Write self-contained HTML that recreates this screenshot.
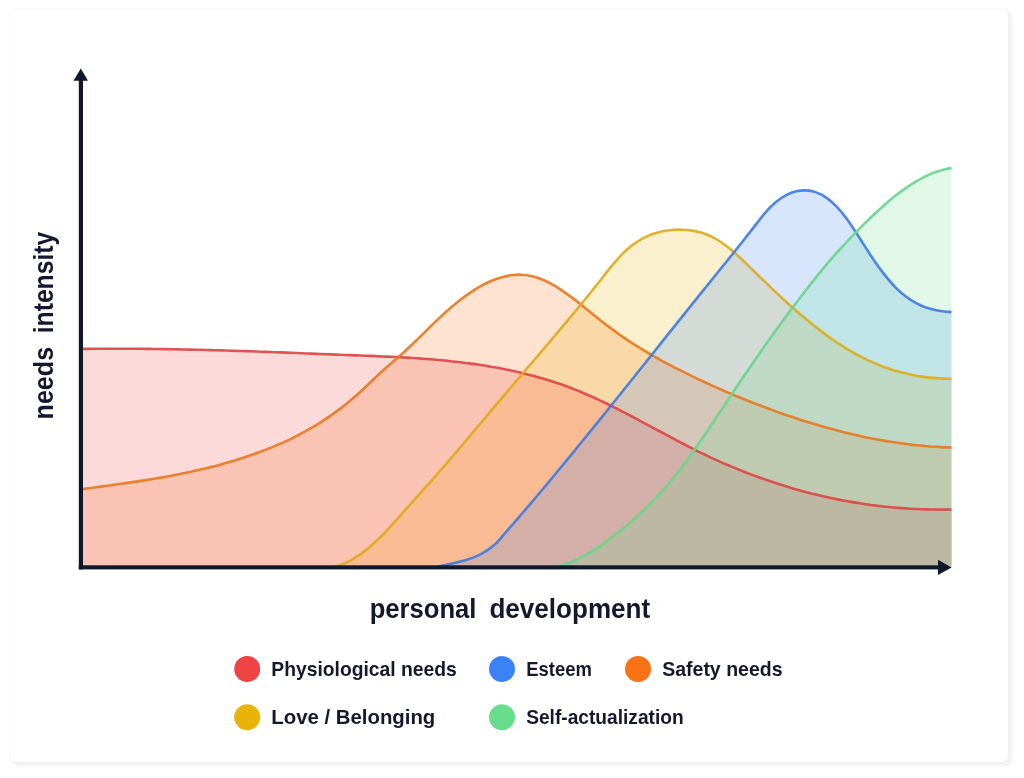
<!DOCTYPE html>
<html lang="en">
<head>
<meta charset="utf-8">
<title>Needs intensity vs personal development</title>
<style>
html,body{margin:0;padding:0;background:#fff;}
body{width:1024px;height:778px;overflow:hidden;position:relative;font-family:"Liberation Sans",sans-serif;}
.card{position:absolute;left:11px;top:10px;width:997px;height:752px;background:#fff;border-radius:6px;box-shadow:3px 3px 3px 2px rgba(0,0,0,0.045),0 0 0 2px rgba(0,0,0,0.015);}
svg{position:absolute;left:0;top:0;}
text{font-family:"Liberation Sans",sans-serif;font-weight:bold;fill:#14172e;}
</style>
</head>
<body>
<div class="card"></div>
<svg width="1024" height="778" viewBox="0 0 1024 778">
<g>
<path d="M81.0 489.3C84.3 488.9 87.7 488.4 91.0 488.0C94.3 487.5 97.7 487.1 101.0 486.6C104.3 486.2 107.7 485.7 111.0 485.2C114.3 484.8 117.7 484.3 121.0 483.8C124.3 483.4 127.7 482.9 131.0 482.4C134.3 481.9 137.7 481.4 141.0 480.9C144.3 480.4 147.7 479.8 151.0 479.3C154.3 478.7 157.7 478.2 161.0 477.6C164.3 477.0 167.7 476.4 171.0 475.8C174.3 475.1 177.7 474.5 181.0 473.8C184.3 473.1 187.7 472.4 191.0 471.7C194.3 471.0 197.7 470.2 201.0 469.5C204.3 468.7 207.7 467.9 211.0 467.0C214.3 466.2 217.7 465.3 221.0 464.4C224.3 463.5 227.7 462.5 231.0 461.5C234.3 460.5 237.7 459.5 241.0 458.4C244.3 457.4 247.7 456.2 251.0 455.1C254.3 453.9 257.7 452.7 261.0 451.5C264.3 450.2 267.7 449.0 271.0 447.6C274.3 446.3 277.7 444.9 281.0 443.4C284.3 441.9 287.7 440.4 291.0 438.8C294.3 437.2 297.7 435.5 301.0 433.7C304.3 432.0 307.7 430.1 311.0 428.2C314.3 426.3 317.7 424.2 321.0 422.1C324.3 420.0 327.7 417.7 331.0 415.4C334.3 413.1 337.7 410.6 341.0 408.1C344.3 405.5 347.7 402.8 351.0 400.0C354.3 397.2 357.7 394.3 361.0 391.2C364.3 388.1 367.7 384.9 371.0 381.7C374.3 378.5 377.7 375.3 381.0 372.2C384.3 369.1 387.7 366.2 391.0 363.4C394.3 360.5 397.7 357.8 401.0 354.8C404.3 351.8 407.7 348.7 411.0 345.5C414.3 342.3 417.7 339.1 421.0 335.8C424.3 332.5 427.7 329.2 431.0 325.9C434.3 322.7 437.7 319.5 441.0 316.4C444.3 313.3 447.7 310.3 451.0 307.5C454.3 304.6 457.7 301.9 461.0 299.3C464.3 296.7 467.7 294.3 471.0 292.1C474.3 289.9 477.7 287.8 481.0 285.9C484.3 284.1 487.7 282.4 491.0 281.0C494.3 279.6 497.7 278.3 501.0 277.4C504.3 276.4 507.7 275.7 511.0 275.2C514.3 274.8 517.7 274.6 521.0 274.7C524.3 274.8 527.7 275.2 531.0 275.9C534.3 276.6 537.7 277.7 541.0 279.0C544.3 280.3 547.7 281.9 551.0 283.7C554.3 285.6 557.7 287.6 561.0 289.8C564.3 292.0 567.7 294.4 571.0 296.9C574.3 299.4 577.7 302.0 581.0 304.6C584.3 307.3 587.7 310.0 591.0 312.7C594.3 315.4 597.7 318.1 601.0 320.7C604.3 323.4 607.7 326.0 611.0 328.4C614.3 330.9 617.7 333.3 621.0 335.6C624.3 337.9 627.7 340.2 631.0 342.4C634.3 344.5 637.7 346.6 641.0 348.7C644.3 350.7 647.7 352.7 651.0 354.6C654.3 356.5 657.7 358.4 661.0 360.3C664.3 362.1 667.7 363.9 671.0 365.6C674.3 367.4 677.7 369.1 681.0 370.7C684.3 372.4 687.7 374.1 691.0 375.7C694.3 377.3 697.7 378.9 701.0 380.5C704.3 382.0 707.7 383.6 711.0 385.1C714.3 386.6 717.7 388.1 721.0 389.5C724.3 391.0 727.7 392.4 731.0 393.8C734.3 395.2 737.7 396.6 741.0 398.0C744.3 399.3 747.7 400.7 751.0 402.0C754.3 403.3 757.7 404.6 761.0 405.8C764.3 407.1 767.7 408.3 771.0 409.6C774.3 410.8 777.7 412.0 781.0 413.2C784.3 414.3 787.7 415.5 791.0 416.6C794.3 417.7 797.7 418.8 801.0 419.9C804.3 421.0 807.7 422.0 811.0 423.0C814.3 424.0 817.7 425.0 821.0 426.0C824.3 426.9 827.7 427.9 831.0 428.8C834.3 429.7 837.7 430.6 841.0 431.4C844.3 432.3 847.7 433.1 851.0 433.9C854.3 434.7 857.7 435.4 861.0 436.2C864.3 436.9 867.7 437.6 871.0 438.2C874.3 438.9 877.7 439.5 881.0 440.1C884.3 440.7 887.7 441.3 891.0 441.8C894.3 442.3 897.7 442.8 901.0 443.3C904.3 443.8 907.7 444.2 911.0 444.6C914.3 445.0 917.7 445.3 921.0 445.6C924.3 446.0 927.7 446.2 931.0 446.5C934.3 446.7 937.7 446.9 941.0 447.1C944.5 447.3 948.0 447.4 951.5 447.5L951.5 567.3L81.0 567.3Z" fill="#f97316" fill-opacity="0.2"/>
<path d="M332.0 567.3C335.3 566.7 338.7 565.7 342.0 564.4C345.3 563.1 348.7 561.5 352.0 559.6C355.3 557.7 358.7 555.5 362.0 553.1C365.3 550.6 368.7 547.9 372.0 545.0C375.3 542.0 378.7 538.9 382.0 535.5C385.3 532.1 388.7 528.5 392.0 524.8C395.3 521.2 398.7 517.4 402.0 513.6C405.3 509.8 408.7 506.0 412.0 502.4C415.3 498.7 418.7 495.0 422.0 491.3C425.3 487.6 428.7 483.9 432.0 480.1C435.3 476.3 438.7 472.5 442.0 468.7C445.3 464.8 448.7 460.9 452.0 457.0C455.3 453.1 458.7 449.2 462.0 445.3C465.3 441.3 468.7 437.4 472.0 433.4C475.3 429.5 478.7 425.5 482.0 421.5C485.3 417.5 488.7 413.6 492.0 409.6C495.3 405.7 498.7 401.7 502.0 397.8C505.3 393.8 508.7 389.9 512.0 386.0C515.3 382.1 518.7 378.2 522.0 374.3C525.3 370.4 528.7 366.5 532.0 362.6C535.3 358.7 538.7 354.8 542.0 350.9C545.3 347.0 548.7 343.0 552.0 339.1C555.3 335.2 558.7 331.2 562.0 327.2C565.3 323.2 568.7 319.3 572.0 315.2C575.3 311.2 578.7 307.2 582.0 303.1C585.3 299.0 588.7 294.9 592.0 290.7C595.3 286.6 598.7 282.4 602.0 278.2C605.3 274.0 608.7 269.7 612.0 265.7C615.3 261.7 618.7 257.8 622.0 254.4C625.3 250.9 628.7 247.9 632.0 245.4C635.3 242.8 638.7 240.6 642.0 238.8C645.3 237.0 648.7 235.5 652.0 234.3C655.3 233.1 658.7 232.1 662.0 231.4C665.3 230.7 668.7 230.2 672.0 230.0C675.3 229.7 678.7 229.6 682.0 229.7C685.3 229.8 688.7 230.1 692.0 230.6C695.3 231.1 698.7 231.8 702.0 232.8C705.3 233.9 708.7 235.2 712.0 236.9C715.3 238.5 718.7 240.5 722.0 242.8C725.3 245.2 728.7 247.8 732.0 250.6C735.3 253.4 738.7 256.4 742.0 259.6C745.3 262.7 748.7 266.0 752.0 269.2C755.3 272.5 758.7 275.8 762.0 279.0C765.3 282.2 768.7 285.4 772.0 288.6C775.3 291.8 778.7 294.9 782.0 298.0C785.3 301.1 788.7 304.1 792.0 307.1C795.3 310.0 798.7 313.0 802.0 315.8C805.3 318.6 808.7 321.4 812.0 324.1C815.3 326.8 818.7 329.4 822.0 331.9C825.3 334.5 828.7 336.9 832.0 339.2C835.3 341.6 838.7 343.8 842.0 345.9C845.3 348.1 848.7 350.1 852.0 352.0C855.3 353.9 858.7 355.7 862.0 357.3C865.3 359.0 868.7 360.6 872.0 362.1C875.3 363.5 878.7 364.9 882.0 366.2C885.3 367.4 888.7 368.6 892.0 369.7C895.3 370.7 898.7 371.7 902.0 372.6C905.3 373.4 908.7 374.2 912.0 374.9C915.3 375.6 918.7 376.2 922.0 376.6C925.3 377.1 928.7 377.6 932.0 377.9C935.3 378.2 938.7 378.4 942.0 378.6C945.2 378.7 948.3 378.8 951.5 378.8L951.5 567.3L332.0 567.3Z" fill="#eab308" fill-opacity="0.2"/>
<path d="M81.0 348.9C84.3 348.9 87.7 348.8 91.0 348.8C94.3 348.8 97.7 348.7 101.0 348.7C104.3 348.7 107.7 348.7 111.0 348.7C114.3 348.7 117.7 348.7 121.0 348.7C124.3 348.7 127.7 348.7 131.0 348.7C134.3 348.7 137.7 348.7 141.0 348.8C144.3 348.8 147.7 348.8 151.0 348.9C154.3 348.9 157.7 349.0 161.0 349.0C164.3 349.1 167.7 349.1 171.0 349.2C174.3 349.2 177.7 349.3 181.0 349.4C184.3 349.4 187.7 349.5 191.0 349.6C194.3 349.7 197.7 349.7 201.0 349.8C204.3 349.9 207.7 350.0 211.0 350.1C214.3 350.2 217.7 350.3 221.0 350.4C224.3 350.5 227.7 350.6 231.0 350.7C234.3 350.8 237.7 350.9 241.0 351.0C244.3 351.1 247.7 351.2 251.0 351.3C254.3 351.4 257.7 351.6 261.0 351.7C264.3 351.8 267.7 351.9 271.0 352.0C274.3 352.2 277.7 352.3 281.0 352.4C284.3 352.5 287.7 352.7 291.0 352.8C294.3 352.9 297.7 353.1 301.0 353.2C304.3 353.3 307.7 353.4 311.0 353.6C314.3 353.7 317.7 353.8 321.0 354.0C324.3 354.1 327.7 354.2 331.0 354.4C334.3 354.5 337.7 354.6 341.0 354.8C344.3 354.9 347.7 355.0 351.0 355.1C354.3 355.3 357.7 355.4 361.0 355.5C364.3 355.7 367.7 355.8 371.0 355.9C374.3 356.1 377.7 356.2 381.0 356.4C384.3 356.5 387.7 356.7 391.0 356.8C394.3 357.0 397.7 357.1 401.0 357.3C404.3 357.5 407.7 357.7 411.0 357.9C414.3 358.1 417.7 358.3 421.0 358.6C424.3 358.8 427.7 359.1 431.0 359.3C434.3 359.6 437.7 359.9 441.0 360.2C444.3 360.5 447.7 360.8 451.0 361.2C454.3 361.5 457.7 361.9 461.0 362.3C464.3 362.7 467.7 363.1 471.0 363.6C474.3 364.0 477.7 364.5 481.0 365.0C484.3 365.5 487.7 366.1 491.0 366.7C494.3 367.2 497.7 367.8 501.0 368.5C504.3 369.1 507.7 369.8 511.0 370.5C514.3 371.2 517.7 372.0 521.0 372.8C524.3 373.6 527.7 374.4 531.0 375.3C534.3 376.1 537.7 377.1 541.0 378.0C544.3 379.0 547.7 380.0 551.0 381.0C554.3 382.1 557.7 383.2 561.0 384.3C564.3 385.5 567.7 386.7 571.0 388.0C574.3 389.3 577.7 390.6 581.0 392.0C584.3 393.4 587.7 394.8 591.0 396.3C594.3 397.8 597.7 399.3 601.0 400.9C604.3 402.4 607.7 404.1 611.0 405.7C614.3 407.4 617.7 409.0 621.0 410.8C624.3 412.5 627.7 414.2 631.0 416.0C634.3 417.7 637.7 419.5 641.0 421.3C644.3 423.1 647.7 424.9 651.0 426.6C654.3 428.4 657.7 430.2 661.0 432.0C664.3 433.8 667.7 435.6 671.0 437.4C674.3 439.2 677.7 440.9 681.0 442.7C684.3 444.4 687.7 446.1 691.0 447.8C694.3 449.5 697.7 451.2 701.0 452.8C704.3 454.4 707.7 456.0 711.0 457.6C714.3 459.1 717.7 460.6 721.0 462.1C724.3 463.6 727.7 465.0 731.0 466.4C734.3 467.8 737.7 469.2 741.0 470.5C744.3 471.9 747.7 473.2 751.0 474.4C754.3 475.7 757.7 476.9 761.0 478.1C764.3 479.3 767.7 480.5 771.0 481.6C774.3 482.7 777.7 483.8 781.0 484.8C784.3 485.9 787.7 486.9 791.0 487.9C794.3 488.9 797.7 489.8 801.0 490.7C804.3 491.7 807.7 492.5 811.0 493.4C814.3 494.2 817.7 495.0 821.0 495.8C824.3 496.6 827.7 497.3 831.0 498.0C834.3 498.8 837.7 499.4 841.0 500.1C844.3 500.7 847.7 501.3 851.0 501.9C854.3 502.5 857.7 503.0 861.0 503.5C864.3 504.0 867.7 504.5 871.0 505.0C874.3 505.4 877.7 505.8 881.0 506.2C884.3 506.6 887.7 506.9 891.0 507.3C894.3 507.6 897.7 507.9 901.0 508.1C904.3 508.4 907.7 508.6 911.0 508.8C914.3 509.0 917.7 509.1 921.0 509.2C924.3 509.4 927.7 509.4 931.0 509.5C934.3 509.6 937.7 509.6 941.0 509.6C944.5 509.6 948.0 509.6 951.5 509.5L951.5 567.3L81.0 567.3Z" fill="#ef4444" fill-opacity="0.2"/>
<path d="M436.0 567.3C439.3 566.3 442.7 565.5 446.0 564.8C449.3 564.0 452.7 563.3 456.0 562.6C459.3 561.8 462.7 561.0 466.0 560.0C469.3 559.0 472.7 557.9 476.0 556.4C479.3 555.0 482.7 553.3 486.0 551.1C489.4 549.0 492.8 546.4 496.2 543.3C499.5 539.5 502.9 535.7 506.2 531.9C509.5 528.1 512.9 524.3 516.2 520.4C519.5 516.5 522.9 512.7 526.2 508.7C529.5 504.8 532.9 500.9 536.2 497.0C539.5 493.0 542.9 489.0 546.2 485.0C549.5 481.1 552.9 477.1 556.2 473.0C559.5 469.0 562.9 465.0 566.2 460.9C569.5 456.9 572.9 452.8 576.2 448.7C579.5 444.6 582.9 440.5 586.2 436.4C589.5 432.3 592.9 428.2 596.2 424.1C599.5 420.0 602.9 415.8 606.2 411.7C609.5 407.5 612.9 403.4 616.2 399.2C619.5 395.1 622.9 390.9 626.2 386.8C629.5 382.6 632.9 378.4 636.2 374.2C639.5 370.1 642.9 365.9 646.2 361.7C649.5 357.5 652.9 353.3 656.2 349.2C659.5 345.0 662.9 340.8 666.2 336.6C669.5 332.4 672.9 328.3 676.2 324.1C679.5 319.9 682.9 315.8 686.2 311.6C689.5 307.4 692.9 303.3 696.2 299.1C699.5 295.0 702.9 290.8 706.2 286.7C709.5 282.6 712.9 278.5 716.2 274.3C719.5 270.2 722.9 266.1 726.2 262.0C729.5 257.8 732.9 253.7 736.2 249.5C739.5 245.3 742.9 241.1 746.2 236.9C749.5 232.7 752.9 228.4 756.2 224.1C759.5 219.8 762.9 215.4 766.2 211.6C769.5 207.7 772.9 204.5 776.2 201.7C779.5 199.0 782.9 196.8 786.2 195.1C789.5 193.4 792.9 192.1 796.2 191.3C799.5 190.5 802.9 190.2 806.2 190.4C809.5 190.5 812.9 191.2 816.2 192.4C819.5 193.6 822.9 195.3 826.2 197.6C829.5 199.8 832.9 202.7 836.2 206.1C839.5 209.5 842.9 213.6 846.2 218.1C849.5 222.7 852.9 227.6 856.2 232.8C859.5 237.9 862.9 243.2 866.2 248.4C869.5 253.6 872.9 258.8 876.2 263.5C879.5 268.3 882.9 272.8 886.2 276.9C889.5 281.0 892.9 284.8 896.2 288.1C899.5 291.4 902.9 294.3 906.2 296.8C909.5 299.3 912.9 301.4 916.2 303.1C919.5 304.9 922.9 306.4 926.2 307.6C929.5 308.7 932.9 309.6 936.2 310.3C939.5 311.0 942.9 311.4 946.2 311.7C948.0 311.8 949.7 311.9 951.5 312.0L951.5 567.3L436.0 567.3Z" fill="#3b82f6" fill-opacity="0.2"/>
<path d="M555.0 567.3C558.3 566.6 561.7 565.6 565.0 564.5C568.3 563.3 571.7 562.0 575.0 560.5C578.3 558.9 581.7 557.2 585.0 555.4C588.3 553.6 591.7 551.6 595.0 549.4C598.3 547.3 601.7 545.0 605.0 542.6C608.3 540.2 611.7 537.7 615.0 535.1C618.3 532.5 621.7 529.8 625.0 527.0C628.3 524.3 631.7 521.4 635.0 518.4C638.3 515.4 641.7 512.3 645.0 509.1C648.3 505.9 651.7 502.6 655.0 499.1C658.3 495.6 661.7 491.9 665.0 488.1C668.3 484.3 671.7 480.4 675.0 476.2C678.3 472.0 681.7 467.7 685.0 463.2C688.3 458.6 691.7 453.9 695.0 449.1C698.3 444.3 701.7 439.4 705.0 434.4C708.3 429.4 711.7 424.4 715.0 419.4C718.3 414.4 721.7 409.4 725.0 404.4C728.3 399.4 731.7 394.4 735.0 389.4C738.3 384.4 741.7 379.5 745.0 374.6C748.3 369.7 751.7 364.8 755.0 360.0C758.3 355.2 761.7 350.4 765.0 345.6C768.3 340.9 771.7 336.2 775.0 331.6C778.3 326.9 781.7 322.4 785.0 317.8C788.3 313.3 791.7 308.8 795.0 304.4C798.3 300.0 801.7 295.6 805.0 291.3C808.3 287.0 811.7 282.8 815.0 278.6C818.3 274.4 821.7 270.3 825.0 266.3C828.3 262.3 831.7 258.4 835.0 254.7C838.3 250.9 841.7 247.3 845.0 243.8C848.3 240.2 851.7 236.7 855.0 233.3C858.3 229.8 861.7 226.5 865.0 223.2C868.3 219.9 871.7 216.6 875.0 213.5C878.3 210.4 881.7 207.4 885.0 204.5C888.3 201.6 891.7 198.8 895.0 196.1C898.3 193.5 901.7 191.0 905.0 188.6C908.3 186.3 911.7 184.1 915.0 182.1C918.3 180.1 921.7 178.3 925.0 176.6C928.3 175.0 931.7 173.5 935.0 172.3C938.3 171.1 941.7 170.1 945.0 169.3C947.2 168.8 949.3 168.4 951.5 168.1L951.5 567.3L555.0 567.3Z" fill="#68dd8b" fill-opacity="0.2"/>
<path d="M81.0 348.9C84.3 348.9 87.7 348.8 91.0 348.8C94.3 348.8 97.7 348.7 101.0 348.7C104.3 348.7 107.7 348.7 111.0 348.7C114.3 348.7 117.7 348.7 121.0 348.7C124.3 348.7 127.7 348.7 131.0 348.7C134.3 348.7 137.7 348.7 141.0 348.8C144.3 348.8 147.7 348.8 151.0 348.9C154.3 348.9 157.7 349.0 161.0 349.0C164.3 349.1 167.7 349.1 171.0 349.2C174.3 349.2 177.7 349.3 181.0 349.4C184.3 349.4 187.7 349.5 191.0 349.6C194.3 349.7 197.7 349.7 201.0 349.8C204.3 349.9 207.7 350.0 211.0 350.1C214.3 350.2 217.7 350.3 221.0 350.4C224.3 350.5 227.7 350.6 231.0 350.7C234.3 350.8 237.7 350.9 241.0 351.0C244.3 351.1 247.7 351.2 251.0 351.3C254.3 351.4 257.7 351.6 261.0 351.7C264.3 351.8 267.7 351.9 271.0 352.0C274.3 352.2 277.7 352.3 281.0 352.4C284.3 352.5 287.7 352.7 291.0 352.8C294.3 352.9 297.7 353.1 301.0 353.2C304.3 353.3 307.7 353.4 311.0 353.6C314.3 353.7 317.7 353.8 321.0 354.0C324.3 354.1 327.7 354.2 331.0 354.4C334.3 354.5 337.7 354.6 341.0 354.8C344.3 354.9 347.7 355.0 351.0 355.1C354.3 355.3 357.7 355.4 361.0 355.5C364.3 355.7 367.7 355.8 371.0 355.9C374.3 356.1 377.7 356.2 381.0 356.4C384.3 356.5 387.7 356.7 391.0 356.8C394.3 357.0 397.7 357.1 401.0 357.3C404.3 357.5 407.7 357.7 411.0 357.9C414.3 358.1 417.7 358.3 421.0 358.6C424.3 358.8 427.7 359.1 431.0 359.3C434.3 359.6 437.7 359.9 441.0 360.2C444.3 360.5 447.7 360.8 451.0 361.2C454.3 361.5 457.7 361.9 461.0 362.3C464.3 362.7 467.7 363.1 471.0 363.6C474.3 364.0 477.7 364.5 481.0 365.0C484.3 365.5 487.7 366.1 491.0 366.7C494.3 367.2 497.7 367.8 501.0 368.5C504.3 369.1 507.7 369.8 511.0 370.5C514.3 371.2 517.7 372.0 521.0 372.8C524.3 373.6 527.7 374.4 531.0 375.3C534.3 376.1 537.7 377.1 541.0 378.0C544.3 379.0 547.7 380.0 551.0 381.0C554.3 382.1 557.7 383.2 561.0 384.3C564.3 385.5 567.7 386.7 571.0 388.0C574.3 389.3 577.7 390.6 581.0 392.0C584.3 393.4 587.7 394.8 591.0 396.3C594.3 397.8 597.7 399.3 601.0 400.9C604.3 402.4 607.7 404.1 611.0 405.7C614.3 407.4 617.7 409.0 621.0 410.8C624.3 412.5 627.7 414.2 631.0 416.0C634.3 417.7 637.7 419.5 641.0 421.3C644.3 423.1 647.7 424.9 651.0 426.6C654.3 428.4 657.7 430.2 661.0 432.0C664.3 433.8 667.7 435.6 671.0 437.4C674.3 439.2 677.7 440.9 681.0 442.7C684.3 444.4 687.7 446.1 691.0 447.8C694.3 449.5 697.7 451.2 701.0 452.8C704.3 454.4 707.7 456.0 711.0 457.6C714.3 459.1 717.7 460.6 721.0 462.1C724.3 463.6 727.7 465.0 731.0 466.4C734.3 467.8 737.7 469.2 741.0 470.5C744.3 471.9 747.7 473.2 751.0 474.4C754.3 475.7 757.7 476.9 761.0 478.1C764.3 479.3 767.7 480.5 771.0 481.6C774.3 482.7 777.7 483.8 781.0 484.8C784.3 485.9 787.7 486.9 791.0 487.9C794.3 488.9 797.7 489.8 801.0 490.7C804.3 491.7 807.7 492.5 811.0 493.4C814.3 494.2 817.7 495.0 821.0 495.8C824.3 496.6 827.7 497.3 831.0 498.0C834.3 498.8 837.7 499.4 841.0 500.1C844.3 500.7 847.7 501.3 851.0 501.9C854.3 502.5 857.7 503.0 861.0 503.5C864.3 504.0 867.7 504.5 871.0 505.0C874.3 505.4 877.7 505.8 881.0 506.2C884.3 506.6 887.7 506.9 891.0 507.3C894.3 507.6 897.7 507.9 901.0 508.1C904.3 508.4 907.7 508.6 911.0 508.8C914.3 509.0 917.7 509.1 921.0 509.2C924.3 509.4 927.7 509.4 931.0 509.5C934.3 509.6 937.7 509.6 941.0 509.6C944.5 509.6 948.0 509.6 951.5 509.5" fill="none" stroke="#dc4646" stroke-width="2.6" stroke-opacity="0.92" stroke-linejoin="round"/>
<path d="M81.0 489.3C84.3 488.9 87.7 488.4 91.0 488.0C94.3 487.5 97.7 487.1 101.0 486.6C104.3 486.2 107.7 485.7 111.0 485.2C114.3 484.8 117.7 484.3 121.0 483.8C124.3 483.4 127.7 482.9 131.0 482.4C134.3 481.9 137.7 481.4 141.0 480.9C144.3 480.4 147.7 479.8 151.0 479.3C154.3 478.7 157.7 478.2 161.0 477.6C164.3 477.0 167.7 476.4 171.0 475.8C174.3 475.1 177.7 474.5 181.0 473.8C184.3 473.1 187.7 472.4 191.0 471.7C194.3 471.0 197.7 470.2 201.0 469.5C204.3 468.7 207.7 467.9 211.0 467.0C214.3 466.2 217.7 465.3 221.0 464.4C224.3 463.5 227.7 462.5 231.0 461.5C234.3 460.5 237.7 459.5 241.0 458.4C244.3 457.4 247.7 456.2 251.0 455.1C254.3 453.9 257.7 452.7 261.0 451.5C264.3 450.2 267.7 449.0 271.0 447.6C274.3 446.3 277.7 444.9 281.0 443.4C284.3 441.9 287.7 440.4 291.0 438.8C294.3 437.2 297.7 435.5 301.0 433.7C304.3 432.0 307.7 430.1 311.0 428.2C314.3 426.3 317.7 424.2 321.0 422.1C324.3 420.0 327.7 417.7 331.0 415.4C334.3 413.1 337.7 410.6 341.0 408.1C344.3 405.5 347.7 402.8 351.0 400.0C354.3 397.2 357.7 394.3 361.0 391.2C364.3 388.1 367.7 384.9 371.0 381.7C374.3 378.5 377.7 375.3 381.0 372.2C384.3 369.1 387.7 366.2 391.0 363.4C394.3 360.5 397.7 357.8 401.0 354.8C404.3 351.8 407.7 348.7 411.0 345.5C414.3 342.3 417.7 339.1 421.0 335.8C424.3 332.5 427.7 329.2 431.0 325.9C434.3 322.7 437.7 319.5 441.0 316.4C444.3 313.3 447.7 310.3 451.0 307.5C454.3 304.6 457.7 301.9 461.0 299.3C464.3 296.7 467.7 294.3 471.0 292.1C474.3 289.9 477.7 287.8 481.0 285.9C484.3 284.1 487.7 282.4 491.0 281.0C494.3 279.6 497.7 278.3 501.0 277.4C504.3 276.4 507.7 275.7 511.0 275.2C514.3 274.8 517.7 274.6 521.0 274.7C524.3 274.8 527.7 275.2 531.0 275.9C534.3 276.6 537.7 277.7 541.0 279.0C544.3 280.3 547.7 281.9 551.0 283.7C554.3 285.6 557.7 287.6 561.0 289.8C564.3 292.0 567.7 294.4 571.0 296.9C574.3 299.4 577.7 302.0 581.0 304.6C584.3 307.3 587.7 310.0 591.0 312.7C594.3 315.4 597.7 318.1 601.0 320.7C604.3 323.4 607.7 326.0 611.0 328.4C614.3 330.9 617.7 333.3 621.0 335.6C624.3 337.9 627.7 340.2 631.0 342.4C634.3 344.5 637.7 346.6 641.0 348.7C644.3 350.7 647.7 352.7 651.0 354.6C654.3 356.5 657.7 358.4 661.0 360.3C664.3 362.1 667.7 363.9 671.0 365.6C674.3 367.4 677.7 369.1 681.0 370.7C684.3 372.4 687.7 374.1 691.0 375.7C694.3 377.3 697.7 378.9 701.0 380.5C704.3 382.0 707.7 383.6 711.0 385.1C714.3 386.6 717.7 388.1 721.0 389.5C724.3 391.0 727.7 392.4 731.0 393.8C734.3 395.2 737.7 396.6 741.0 398.0C744.3 399.3 747.7 400.7 751.0 402.0C754.3 403.3 757.7 404.6 761.0 405.8C764.3 407.1 767.7 408.3 771.0 409.6C774.3 410.8 777.7 412.0 781.0 413.2C784.3 414.3 787.7 415.5 791.0 416.6C794.3 417.7 797.7 418.8 801.0 419.9C804.3 421.0 807.7 422.0 811.0 423.0C814.3 424.0 817.7 425.0 821.0 426.0C824.3 426.9 827.7 427.9 831.0 428.8C834.3 429.7 837.7 430.6 841.0 431.4C844.3 432.3 847.7 433.1 851.0 433.9C854.3 434.7 857.7 435.4 861.0 436.2C864.3 436.9 867.7 437.6 871.0 438.2C874.3 438.9 877.7 439.5 881.0 440.1C884.3 440.7 887.7 441.3 891.0 441.8C894.3 442.3 897.7 442.8 901.0 443.3C904.3 443.8 907.7 444.2 911.0 444.6C914.3 445.0 917.7 445.3 921.0 445.6C924.3 446.0 927.7 446.2 931.0 446.5C934.3 446.7 937.7 446.9 941.0 447.1C944.5 447.3 948.0 447.4 951.5 447.5" fill="none" stroke="#e97820" stroke-width="2.6" stroke-opacity="0.92" stroke-linejoin="round"/>
<path d="M332.0 567.3C335.3 566.7 338.7 565.7 342.0 564.4C345.3 563.1 348.7 561.5 352.0 559.6C355.3 557.7 358.7 555.5 362.0 553.1C365.3 550.6 368.7 547.9 372.0 545.0C375.3 542.0 378.7 538.9 382.0 535.5C385.3 532.1 388.7 528.5 392.0 524.8C395.3 521.2 398.7 517.4 402.0 513.6C405.3 509.8 408.7 506.0 412.0 502.4C415.3 498.7 418.7 495.0 422.0 491.3C425.3 487.6 428.7 483.9 432.0 480.1C435.3 476.3 438.7 472.5 442.0 468.7C445.3 464.8 448.7 460.9 452.0 457.0C455.3 453.1 458.7 449.2 462.0 445.3C465.3 441.3 468.7 437.4 472.0 433.4C475.3 429.5 478.7 425.5 482.0 421.5C485.3 417.5 488.7 413.6 492.0 409.6C495.3 405.7 498.7 401.7 502.0 397.8C505.3 393.8 508.7 389.9 512.0 386.0C515.3 382.1 518.7 378.2 522.0 374.3C525.3 370.4 528.7 366.5 532.0 362.6C535.3 358.7 538.7 354.8 542.0 350.9C545.3 347.0 548.7 343.0 552.0 339.1C555.3 335.2 558.7 331.2 562.0 327.2C565.3 323.2 568.7 319.3 572.0 315.2C575.3 311.2 578.7 307.2 582.0 303.1C585.3 299.0 588.7 294.9 592.0 290.7C595.3 286.6 598.7 282.4 602.0 278.2C605.3 274.0 608.7 269.7 612.0 265.7C615.3 261.7 618.7 257.8 622.0 254.4C625.3 250.9 628.7 247.9 632.0 245.4C635.3 242.8 638.7 240.6 642.0 238.8C645.3 237.0 648.7 235.5 652.0 234.3C655.3 233.1 658.7 232.1 662.0 231.4C665.3 230.7 668.7 230.2 672.0 230.0C675.3 229.7 678.7 229.6 682.0 229.7C685.3 229.8 688.7 230.1 692.0 230.6C695.3 231.1 698.7 231.8 702.0 232.8C705.3 233.9 708.7 235.2 712.0 236.9C715.3 238.5 718.7 240.5 722.0 242.8C725.3 245.2 728.7 247.8 732.0 250.6C735.3 253.4 738.7 256.4 742.0 259.6C745.3 262.7 748.7 266.0 752.0 269.2C755.3 272.5 758.7 275.8 762.0 279.0C765.3 282.2 768.7 285.4 772.0 288.6C775.3 291.8 778.7 294.9 782.0 298.0C785.3 301.1 788.7 304.1 792.0 307.1C795.3 310.0 798.7 313.0 802.0 315.8C805.3 318.6 808.7 321.4 812.0 324.1C815.3 326.8 818.7 329.4 822.0 331.9C825.3 334.5 828.7 336.9 832.0 339.2C835.3 341.6 838.7 343.8 842.0 345.9C845.3 348.1 848.7 350.1 852.0 352.0C855.3 353.9 858.7 355.7 862.0 357.3C865.3 359.0 868.7 360.6 872.0 362.1C875.3 363.5 878.7 364.9 882.0 366.2C885.3 367.4 888.7 368.6 892.0 369.7C895.3 370.7 898.7 371.7 902.0 372.6C905.3 373.4 908.7 374.2 912.0 374.9C915.3 375.6 918.7 376.2 922.0 376.6C925.3 377.1 928.7 377.6 932.0 377.9C935.3 378.2 938.7 378.4 942.0 378.6C945.2 378.7 948.3 378.8 951.5 378.8" fill="none" stroke="#dcac1c" stroke-width="2.6" stroke-opacity="0.92" stroke-linejoin="round"/>
<path d="M436.0 567.3C439.3 566.3 442.7 565.5 446.0 564.8C449.3 564.0 452.7 563.3 456.0 562.6C459.3 561.8 462.7 561.0 466.0 560.0C469.3 559.0 472.7 557.9 476.0 556.4C479.3 555.0 482.7 553.3 486.0 551.1C489.4 549.0 492.8 546.4 496.2 543.3C499.5 539.5 502.9 535.7 506.2 531.9C509.5 528.1 512.9 524.3 516.2 520.4C519.5 516.5 522.9 512.7 526.2 508.7C529.5 504.8 532.9 500.9 536.2 497.0C539.5 493.0 542.9 489.0 546.2 485.0C549.5 481.1 552.9 477.1 556.2 473.0C559.5 469.0 562.9 465.0 566.2 460.9C569.5 456.9 572.9 452.8 576.2 448.7C579.5 444.6 582.9 440.5 586.2 436.4C589.5 432.3 592.9 428.2 596.2 424.1C599.5 420.0 602.9 415.8 606.2 411.7C609.5 407.5 612.9 403.4 616.2 399.2C619.5 395.1 622.9 390.9 626.2 386.8C629.5 382.6 632.9 378.4 636.2 374.2C639.5 370.1 642.9 365.9 646.2 361.7C649.5 357.5 652.9 353.3 656.2 349.2C659.5 345.0 662.9 340.8 666.2 336.6C669.5 332.4 672.9 328.3 676.2 324.1C679.5 319.9 682.9 315.8 686.2 311.6C689.5 307.4 692.9 303.3 696.2 299.1C699.5 295.0 702.9 290.8 706.2 286.7C709.5 282.6 712.9 278.5 716.2 274.3C719.5 270.2 722.9 266.1 726.2 262.0C729.5 257.8 732.9 253.7 736.2 249.5C739.5 245.3 742.9 241.1 746.2 236.9C749.5 232.7 752.9 228.4 756.2 224.1C759.5 219.8 762.9 215.4 766.2 211.6C769.5 207.7 772.9 204.5 776.2 201.7C779.5 199.0 782.9 196.8 786.2 195.1C789.5 193.4 792.9 192.1 796.2 191.3C799.5 190.5 802.9 190.2 806.2 190.4C809.5 190.5 812.9 191.2 816.2 192.4C819.5 193.6 822.9 195.3 826.2 197.6C829.5 199.8 832.9 202.7 836.2 206.1C839.5 209.5 842.9 213.6 846.2 218.1C849.5 222.7 852.9 227.6 856.2 232.8C859.5 237.9 862.9 243.2 866.2 248.4C869.5 253.6 872.9 258.8 876.2 263.5C879.5 268.3 882.9 272.8 886.2 276.9C889.5 281.0 892.9 284.8 896.2 288.1C899.5 291.4 902.9 294.3 906.2 296.8C909.5 299.3 912.9 301.4 916.2 303.1C919.5 304.9 922.9 306.4 926.2 307.6C929.5 308.7 932.9 309.6 936.2 310.3C939.5 311.0 942.9 311.4 946.2 311.7C948.0 311.8 949.7 311.9 951.5 312.0" fill="none" stroke="#3f7ce4" stroke-width="2.6" stroke-opacity="0.92" stroke-linejoin="round"/>
<path d="M555.0 567.3C558.3 566.6 561.7 565.6 565.0 564.5C568.3 563.3 571.7 562.0 575.0 560.5C578.3 558.9 581.7 557.2 585.0 555.4C588.3 553.6 591.7 551.6 595.0 549.4C598.3 547.3 601.7 545.0 605.0 542.6C608.3 540.2 611.7 537.7 615.0 535.1C618.3 532.5 621.7 529.8 625.0 527.0C628.3 524.3 631.7 521.4 635.0 518.4C638.3 515.4 641.7 512.3 645.0 509.1C648.3 505.9 651.7 502.6 655.0 499.1C658.3 495.6 661.7 491.9 665.0 488.1C668.3 484.3 671.7 480.4 675.0 476.2C678.3 472.0 681.7 467.7 685.0 463.2C688.3 458.6 691.7 453.9 695.0 449.1C698.3 444.3 701.7 439.4 705.0 434.4C708.3 429.4 711.7 424.4 715.0 419.4C718.3 414.4 721.7 409.4 725.0 404.4C728.3 399.4 731.7 394.4 735.0 389.4C738.3 384.4 741.7 379.5 745.0 374.6C748.3 369.7 751.7 364.8 755.0 360.0C758.3 355.2 761.7 350.4 765.0 345.6C768.3 340.9 771.7 336.2 775.0 331.6C778.3 326.9 781.7 322.4 785.0 317.8C788.3 313.3 791.7 308.8 795.0 304.4C798.3 300.0 801.7 295.6 805.0 291.3C808.3 287.0 811.7 282.8 815.0 278.6C818.3 274.4 821.7 270.3 825.0 266.3C828.3 262.3 831.7 258.4 835.0 254.7C838.3 250.9 841.7 247.3 845.0 243.8C848.3 240.2 851.7 236.7 855.0 233.3C858.3 229.8 861.7 226.5 865.0 223.2C868.3 219.9 871.7 216.6 875.0 213.5C878.3 210.4 881.7 207.4 885.0 204.5C888.3 201.6 891.7 198.8 895.0 196.1C898.3 193.5 901.7 191.0 905.0 188.6C908.3 186.3 911.7 184.1 915.0 182.1C918.3 180.1 921.7 178.3 925.0 176.6C928.3 175.0 931.7 173.5 935.0 172.3C938.3 171.1 941.7 170.1 945.0 169.3C947.2 168.8 949.3 168.4 951.5 168.1" fill="none" stroke="#68d68c" stroke-width="2.6" stroke-opacity="0.92" stroke-linejoin="round"/>

</g>
<g fill="#0f172a" stroke="none">
<rect x="78.8" y="79" width="4.2" height="490.4"/>
<rect x="78.8" y="565.3" width="861" height="4.1"/>
<path d="M73.5 80.8L88 80.8L80.8 68.6Z"/>
<path d="M938 559.8L938 575L951.5 567.4Z"/>
</g>
<text y="618" font-size="28" xml:space="preserve"><tspan x="369.7" textLength="106.8" lengthAdjust="spacingAndGlyphs">personal</tspan><tspan x="475.7" textLength="14.7" lengthAdjust="spacing"> </tspan><tspan x="489.4" textLength="160.8" lengthAdjust="spacingAndGlyphs">development</tspan></text>
<text transform="translate(52.8 419.4) rotate(-90)" y="0" font-size="28" xml:space="preserve"><tspan x="0" textLength="72.5" lengthAdjust="spacingAndGlyphs">needs</tspan><tspan x="72.5" textLength="13.6" lengthAdjust="spacing"> </tspan><tspan x="86.1" textLength="101.6" lengthAdjust="spacingAndGlyphs">intensity</tspan></text>
<g>
<circle cx="247.2" cy="669" r="13" fill="#ef4444"/>
<circle cx="502" cy="669" r="13" fill="#3b82f6"/>
<circle cx="638" cy="669" r="13" fill="#f97316"/>
<circle cx="247.2" cy="717.3" r="13" fill="#eab308"/>
<circle cx="502" cy="717.3" r="13" fill="#68dd8b"/>
</g>
<g font-size="21">
<text x="271.3" y="675.8" textLength="185.5" lengthAdjust="spacingAndGlyphs">Physiological needs</text>
<text x="526.2" y="675.8" textLength="65.6" lengthAdjust="spacingAndGlyphs">Esteem</text>
<text x="662.2" y="675.8" textLength="120.3" lengthAdjust="spacingAndGlyphs">Safety needs</text>
<text x="271.3" y="724.2" textLength="164" lengthAdjust="spacingAndGlyphs">Love / Belonging</text>
<text x="526.2" y="724.2" textLength="157.5" lengthAdjust="spacingAndGlyphs">Self-actualization</text>
</g>
</svg>
</body>
</html>
